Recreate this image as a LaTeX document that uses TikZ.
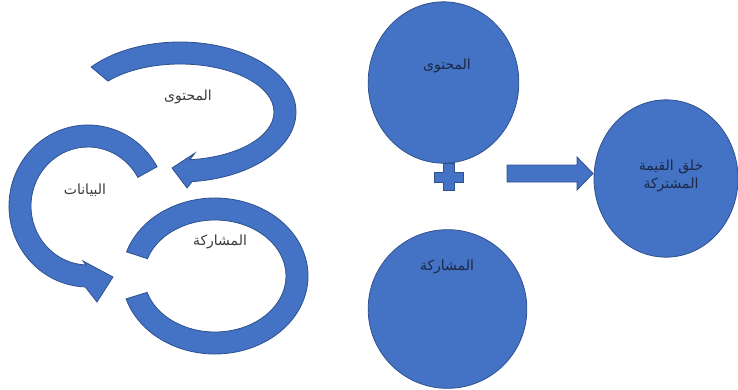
\documentclass[tikz,border=0pt]{standalone}
\usepackage{fontspec}
\usetikzlibrary{calc,shapes.geometric}
\newfontfamily\arabicfont[Script=Arabic]{DejaVu Sans}
\TeXXeTstate=1
\definecolor{offblue}{HTML}{4472C4}
\definecolor{offline}{HTML}{2F528F}
\definecolor{labgray}{HTML}{3A3A3A}
\definecolor{labnavy}{HTML}{1B2947}

\begin{document}
\begin{tikzpicture}[x=0.75pt, y=-0.75pt,
  blob/.style={draw=offline, line width=0.6pt, fill=offblue},
  bubble/.style={blob, ellipse, inner sep=0pt, outer sep=0pt},
  cyclab/.style={font=\arabicfont\fontsize{10.5}{12}\selectfont, text=labgray, inner sep=1pt},
  bublab/.style={font=\arabicfont\fontsize{10.5}{14}\selectfont, text=labnavy, inner sep=1pt, align=center},
]
\useasboundingbox (0,0) rectangle (738,389);

% Cycle on the left: three curved block arrows.
% top arrow (content), head pointing left at the bottom
\filldraw[blob] ($(180,112)+(-140:116 and 70)$)
    arc[start angle=-140, end angle=84, x radius=116, y radius=70]
  -- (187,188) -- (172,168) -- (195,153)
  -- ($(180,112)+(84:94 and 48)$)
    arc[start angle=84, end angle=-140, x radius=94, y radius=48] -- cycle;
% left arrow (data), head pointing right at the bottom
\filldraw[blob] ($(88,206)+(-29:79 and 81)$)
    arc[start angle=-29, end angle=-268, x radius=79, y radius=81]
  -- (97,302) -- (113,277) -- (83,261)
  -- ($(88,206)+(-268:57 and 59)$)
    arc[start angle=-268, end angle=-29, x radius=57, y radius=59] -- cycle;
% lower ring (participation), open on the left
\filldraw[blob] ($(215,276)+(-162:93 and 78)$)
    arc[start angle=-162, end angle=163, x radius=93, y radius=78]
  -- ($(215,276)+(163:71 and 56)$)
    arc[start angle=163, end angle=-162, x radius=71, y radius=56] -- cycle;

\node[cyclab] (cycContent) at (188,97) {\beginR المحتوى\endR};
\node[cyclab] (cycData) at (85,190) {\beginR البيانات\endR};
\node[cyclab] (cycShare) at (220,242) {\beginR المشاركة\endR};

% Right side: content + participation -> shared value.
\node[bubble, minimum width=113pt, minimum height=121pt] (content) at (443.5,82.5) {};
\node[bubble, minimum width=119pt, minimum height=119pt] (share) at (447.5,309) {};
\node[bubble, minimum width=108pt, minimum height=118pt] (value) at (666,178.5) {};

\node[bublab] (contentLab) at (447,66) {\beginR المحتوى\endR};
\node[bublab] (shareLab) at (447,267) {\beginR المشاركة\endR};
\node[bublab] (valueLab) at (671,176) {\beginR خلق القيمة\endR\\ \beginR المشتركة\endR};

% plus sign under the content bubble
\filldraw[blob] (443,163) -- (454,163) -- (454,172) -- (463,172) -- (463,182)
  -- (454,182) -- (454,190) -- (443,190) -- (443,182) -- (434,182)
  -- (434,172) -- (443,172) -- cycle;

% block arrow towards the shared value
\filldraw[blob] (507,165) -- (577,165) -- (577,157) -- (593,173.5)
  -- (577,190) -- (577,182) -- (507,182) -- cycle;

\end{tikzpicture}
\end{document}
